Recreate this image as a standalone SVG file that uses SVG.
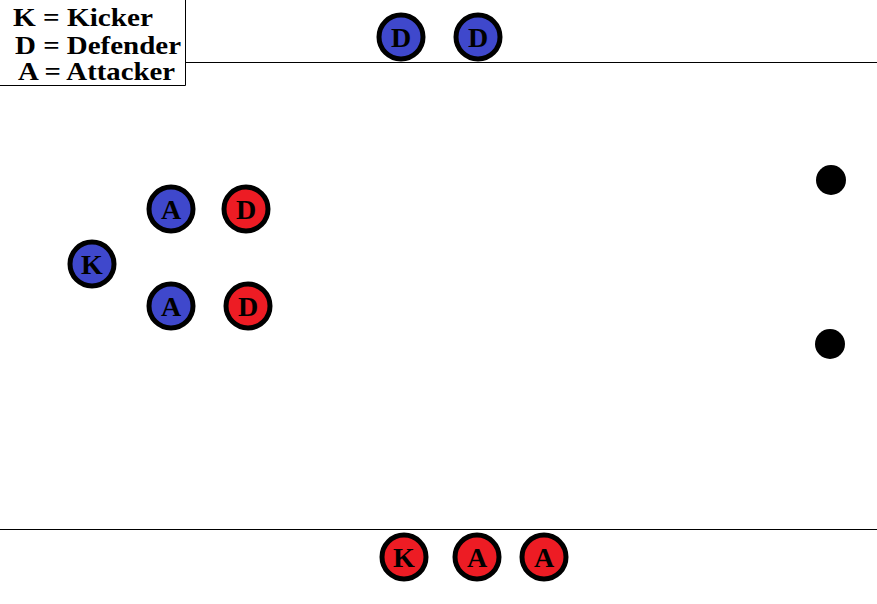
<svg xmlns="http://www.w3.org/2000/svg" width="877" height="604" viewBox="0 0 877 604">
<style>
.p{stroke:#000;stroke-width:5}
.b{fill:#3F48CC}
.r{fill:#ED1C24}
.t{font-family:"Liberation Serif",serif;font-weight:bold;font-size:28px;text-anchor:middle;fill:#000}
.lg{font-family:"Liberation Serif",serif;font-weight:bold;font-size:26px;fill:#000}
.ln{stroke:#000;stroke-width:1;fill:none}
</style>
<rect width="877" height="604" fill="#fff"/>
<g id="lines">
<line class="ln" x1="185" y1="62.5" x2="877" y2="62.5"/>
<line class="ln" x1="0" y1="529.5" x2="877" y2="529.5"/>
</g>
<g id="legend">
<polyline class="ln" points="185.5,0 185.5,85.5 0,85.5"/>
<text class="lg" x="13" y="26" textLength="140" lengthAdjust="spacingAndGlyphs">K = Kicker</text>
<text class="lg" x="15" y="54" textLength="166" lengthAdjust="spacingAndGlyphs">D = Defender</text>
<text class="lg" x="18" y="80" textLength="157" lengthAdjust="spacingAndGlyphs">A = Attacker</text>
</g>
<g id="d1"><circle class="p b" cx="401" cy="37" r="22"/><text class="t" x="401" y="46.5">D</text></g>
<g id="d2"><circle class="p b" cx="478" cy="37" r="22"/><text class="t" x="478" y="46.5">D</text></g>
<g id="a1"><circle class="p b" cx="171" cy="209" r="22"/><text class="t" x="171" y="218.5">A</text></g>
<g id="a2"><circle class="p b" cx="171" cy="306" r="22"/><text class="t" x="171" y="315.5">A</text></g>
<g id="k1"><circle class="p b" cx="92" cy="264" r="22"/><text class="t" x="92" y="273.5">K</text></g>
<g id="d3"><circle class="p r" cx="246" cy="209" r="22"/><text class="t" x="246" y="218.5">D</text></g>
<g id="d4"><circle class="p r" cx="248" cy="306" r="22"/><text class="t" x="248" y="315.5">D</text></g>
<g id="k2"><circle class="p r" cx="404" cy="557" r="22"/><text class="t" x="404" y="566.5">K</text></g>
<g id="a3"><circle class="p r" cx="477" cy="557" r="22"/><text class="t" x="477" y="566.5">A</text></g>
<g id="a4"><circle class="p r" cx="544" cy="557" r="22"/><text class="t" x="544" y="566.5">A</text></g>
<g id="ball1"><circle cx="831" cy="180" r="15" fill="#000"/></g>
<g id="ball2"><circle cx="830" cy="344" r="15" fill="#000"/></g>
</svg>
